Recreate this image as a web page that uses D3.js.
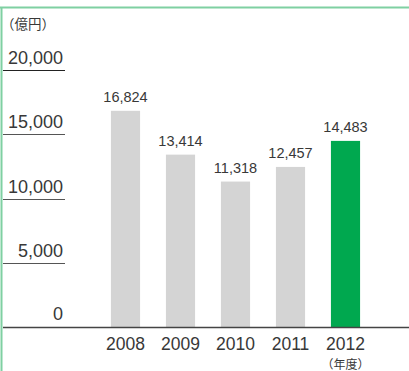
<!DOCTYPE html>
<html>
<head>
<meta charset="utf-8">
<script src="https://cdn.jsdelivr.net/npm/d3@7"></script>
<style>
  html, body { margin: 0; padding: 0; background: #fff; }
  svg { display: block; }
  text { font-family: "Liberation Sans", Arial, Helvetica, sans-serif; fill: #383838; }
  text.cjk { font-family: "Noto Sans CJK JP", "Noto Sans CJK SC", sans-serif; }
</style>
</head>
<body>
<svg id="chart" width="409" height="371"></svg>
<script>
// Revenue by fiscal year (億円)
const years = ["2008", "2009", "2010", "2011", "2012"];
const values = [16824, 13414, 11318, 12457, 14483];
const yTicks = [0, 5000, 10000, 15000, 20000];
const highlightYear = "2012";

const svg = d3.select("#chart");
const W = 409, H = 371;
const baseY = 327;

const x = d3.scaleBand().domain(years).range([98, 373]).paddingInner(0.47).paddingOuter(0.235);
const y = d3.scaleLinear().domain([0, 20000]).range([baseY, 70]);
const fmt = d3.format(",");

// green frame (top and left edges)
svg.append("line").attr("x1", 0).attr("x2", W).attr("y1", 7.5).attr("y2", 7.5)
  .attr("stroke", "#7fd0a2").attr("stroke-width", 2);
svg.append("line").attr("x1", 1.5).attr("x2", 1.5).attr("y1", 7).attr("y2", H)
  .attr("stroke", "#7fd0a2").attr("stroke-width", 2);

// unit label
svg.append("text").attr("class", "cjk").attr("x", 1).attr("y", 28.5).attr("font-size", 13.5).text("（億円）");

// y ticks: short rule under each label
const tick = svg.append("g").selectAll("g").data(yTicks.filter(d => d > 0)).join("g")
  .attr("transform", d => `translate(0,${Math.round(y(d)) + 0.5})`);
tick.append("line").attr("x1", 3).attr("x2", 65)
  .attr("stroke", d => d === 20000 ? "#222" : "#555").attr("stroke-width", 1.2);
tick.append("text").attr("x", 63).attr("y", -7).attr("text-anchor", "end")
  .attr("font-size", 18).text(d => fmt(d));
svg.append("text").attr("x", 63).attr("y", baseY - 7).attr("text-anchor", "end")
  .attr("font-size", 18).text(fmt(yTicks[0]));

// bars
const data = years.map((yr, i) => ({ yr, v: values[i] }));
svg.append("g").selectAll("rect").data(data).join("rect")
  .attr("x", d => x(d.yr))
  .attr("width", x.bandwidth())
  .attr("y", d => y(d.v))
  .attr("height", d => baseY - y(d.v))
  .attr("fill", d => d.yr === highlightYear ? "#00a84f" : "#d4d4d4");

// value labels
svg.append("g").selectAll("text").data(data).join("text")
  .attr("x", d => x(d.yr) + x.bandwidth() / 2)
  .attr("y", d => y(d.v) - 9)
  .attr("text-anchor", "middle")
  .attr("font-size", 14.5)
  .text(d => fmt(d.v));

// baseline
svg.append("line").attr("x1", 3).attr("x2", W).attr("y1", baseY + 0.5).attr("y2", baseY + 0.5)
  .attr("stroke", "#444").attr("stroke-width", 1.5);

// x labels
svg.append("g").selectAll("text").data(years).join("text")
  .attr("x", d => x(d) + x.bandwidth() / 2)
  .attr("y", 350)
  .attr("text-anchor", "middle")
  .attr("font-size", 17.5)
  .text(d => d);
svg.append("text").attr("class", "cjk")
  .attr("x", x(highlightYear) + x.bandwidth() / 2)
  .attr("y", 369)
  .attr("text-anchor", "middle")
  .attr("font-size", 12)
  .text("（年度）");
</script>
</body>
</html>
